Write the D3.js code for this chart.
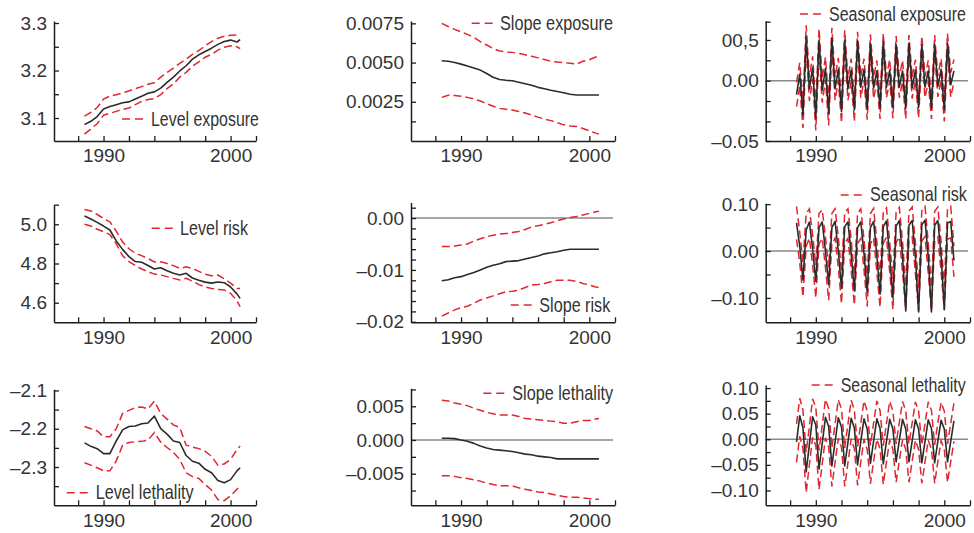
<!DOCTYPE html>
<html>
<head>
<meta charset="utf-8">
<script src="https://cdn.jsdelivr.net/npm/d3@7"></script>
<style>
  html, body { margin: 0; padding: 0; background: #fff; }
  svg { display: block; }
</style>
</head>
<body>
<svg id="chart" width="974" height="533"></svg>
<script>
// time axes: half-yearly for level/slope, quarterly for seasonal
const yearsHalf = [1988.5, 1989, 1989.5, 1990, 1990.5, 1991, 1991.5, 1992, 1992.5, 1993, 1993.5, 1994, 1994.5,
  1995, 1995.5, 1996, 1996.5, 1997, 1997.5, 1998, 1998.5, 1999, 1999.5, 2000, 2000.5, 2000.75];
const yearsQtr = [1988.5, 1988.75,
  1989, 1989.25, 1989.5, 1989.75, 1990, 1990.25, 1990.5, 1990.75, 1991, 1991.25, 1991.5, 1991.75,
  1992, 1992.25, 1992.5, 1992.75, 1993, 1993.25, 1993.5, 1993.75, 1994, 1994.25, 1994.5, 1994.75,
  1995, 1995.25, 1995.5, 1995.75, 1996, 1996.25, 1996.5, 1996.75, 1997, 1997.25, 1997.5, 1997.75,
  1998, 1998.25, 1998.5, 1998.75, 1999, 1999.25, 1999.5, 1999.75, 2000, 2000.25, 2000.5, 2000.75];

const xTicks = [1988, 1990, 1992, 1994, 1996, 1998, 2000, 2002];
const xTickLabels = ["", "1990", "", "", "", "", "2000", ""];

// Level exposure
const levelExpMid = [3.086, 3.093, 3.103, 3.119, 3.124, 3.128, 3.132, 3.134, 3.140, 3.146, 3.152, 3.155, 3.163,
  3.175, 3.186, 3.199, 3.210, 3.224, 3.233, 3.240, 3.247, 3.255, 3.261, 3.264, 3.260, 3.265];
const levelExpUp = [3.104, 3.112, 3.122, 3.140, 3.146, 3.149, 3.153, 3.157, 3.162, 3.166, 3.171, 3.174, 3.186,
  3.196, 3.205, 3.215, 3.224, 3.234, 3.242, 3.252, 3.261, 3.268, 3.272, 3.274, 3.275, 3.278];
const levelExpLo = [3.066, 3.077, 3.088, 3.106, 3.110, 3.114, 3.118, 3.121, 3.128, 3.135, 3.139, 3.141, 3.149,
  3.162, 3.172, 3.186, 3.196, 3.209, 3.218, 3.228, 3.234, 3.243, 3.249, 3.252, 3.250, 3.246];

// Slope exposure
const slopeExpMid = [0.00512, 0.00508, 0.00500, 0.00490, 0.00478, 0.00466, 0.00452, 0.00430, 0.00406, 0.00392,
  0.00387, 0.00384, 0.00375, 0.00365, 0.00355, 0.00342, 0.00333, 0.00323, 0.00316, 0.00308, 0.00298, 0.00293,
  0.00293, 0.00293, 0.00293, 0.00293];
const slopeExpUp = [0.00750, 0.00730, 0.00712, 0.00695, 0.00680, 0.00660, 0.00633, 0.00612, 0.00590, 0.00574,
  0.00567, 0.00565, 0.00558, 0.00550, 0.00540, 0.00530, 0.00520, 0.00508, 0.00503, 0.00500, 0.00495, 0.00490,
  0.00508, 0.00518, 0.00535, 0.00541];
const slopeExpLo = [0.00278, 0.00292, 0.00290, 0.00285, 0.00278, 0.00268, 0.00255, 0.00238, 0.00222, 0.00208,
  0.00202, 0.00197, 0.00188, 0.00178, 0.00165, 0.00152, 0.00140, 0.00130, 0.00117, 0.00103, 0.00096, 0.00092,
  0.00080, 0.00065, 0.00050, 0.00044];

// Seasonal exposure
const seasExpMid = [-0.017, 0.008,
  -0.042, 0.054, -0.010, 0.016, -0.046, 0.050, -0.012, 0.015, -0.040, 0.052, -0.010, 0.014,
  -0.038, 0.050, -0.010, 0.013, -0.036, 0.049, -0.008, 0.014, -0.035, 0.046, -0.009, 0.012,
  -0.034, 0.048, -0.008, 0.013, -0.033, 0.044, -0.008, 0.012, -0.034, 0.046, -0.009, 0.013,
  -0.033, 0.044, -0.008, 0.012, -0.034, 0.045, -0.007, 0.014, -0.036, 0.046, -0.005, 0.012];
const seasExpUp = [-0.002, 0.022,
  -0.025, 0.068, 0.004, 0.030, -0.030, 0.064, 0.003, 0.029, -0.025, 0.065, 0.004, 0.028,
  -0.024, 0.062, 0.003, 0.027, -0.022, 0.060, 0.005, 0.027, -0.022, 0.057, 0.004, 0.025,
  -0.021, 0.058, 0.005, 0.026, -0.021, 0.055, 0.005, 0.025, -0.022, 0.056, 0.004, 0.026,
  -0.021, 0.055, 0.005, 0.025, -0.022, 0.056, 0.006, 0.027, -0.024, 0.058, 0.010, 0.026];
const seasExpLo = [-0.032, -0.006,
  -0.058, 0.040, -0.025, 0.002, -0.061, 0.036, -0.027, 0.001, -0.055, 0.038, -0.024, 0.000,
  -0.052, 0.037, -0.024, -0.001, -0.050, 0.036, -0.021, 0.001, -0.048, 0.034, -0.022, -0.001,
  -0.047, 0.036, -0.021, 0.000, -0.046, 0.032, -0.021, -0.001, -0.047, 0.034, -0.022, 0.000,
  -0.046, 0.032, -0.021, -0.001, -0.047, 0.033, -0.020, 0.001, -0.050, 0.034, -0.020, -0.002];

// Level risk
const levelRiskMid = [5.042, 5.027, 5.010, 4.991, 4.971, 4.915, 4.872, 4.835, 4.810, 4.806, 4.790, 4.772, 4.778,
  4.763, 4.750, 4.741, 4.750, 4.726, 4.715, 4.705, 4.700, 4.706, 4.702, 4.680, 4.645, 4.622];
const levelRiskUp = [5.076, 5.068, 5.050, 5.030, 5.012, 4.965, 4.910, 4.875, 4.852, 4.840, 4.825, 4.808, 4.809,
  4.800, 4.789, 4.775, 4.783, 4.775, 4.760, 4.745, 4.737, 4.741, 4.722, 4.700, 4.673, 4.673];
const levelRiskLo = [5.000, 4.991, 4.975, 4.962, 4.948, 4.900, 4.840, 4.810, 4.790, 4.772, 4.758, 4.746, 4.741,
  4.733, 4.724, 4.716, 4.724, 4.710, 4.692, 4.680, 4.673, 4.668, 4.665, 4.648, 4.610, 4.580];

// Slope risk
const slopeRiskMid = [-0.0121, -0.0119, -0.0115, -0.0113, -0.0109, -0.0105, -0.0100, -0.0095, -0.0091, -0.0088,
  -0.0084, -0.0083, -0.0082, -0.0079, -0.0076, -0.0073, -0.0069, -0.0067, -0.0065, -0.0062, -0.0060, -0.0060,
  -0.0060, -0.0060, -0.0060, -0.0060];
const slopeRiskUp = [-0.0055, -0.0055, -0.0054, -0.0052, -0.0050, -0.0044, -0.0040, -0.0036, -0.0033, -0.0031,
  -0.0030, -0.0028, -0.0026, -0.0022, -0.0017, -0.0015, -0.0012, -0.0009, -0.0005, -0.0002, 0.0001, 0.0003,
  0.0006, 0.0009, 0.0012, 0.0013];
const slopeRiskLo = [-0.0189, -0.0183, -0.0177, -0.0173, -0.0170, -0.0164, -0.0158, -0.0154, -0.0150, -0.0146,
  -0.0142, -0.0141, -0.0139, -0.0134, -0.0129, -0.0128, -0.0126, -0.0123, -0.0120, -0.0120, -0.0120, -0.0122,
  -0.0126, -0.0129, -0.0133, -0.0134];

// Seasonal risk
const seasRiskMid = [0.060, 0.010,
  -0.062, 0.045, 0.062, 0.005, -0.065, 0.050, 0.062, 0.000, -0.072, 0.050, 0.063, 0.000,
  -0.080, 0.052, 0.062, -0.005, -0.085, 0.050, 0.062, -0.005, -0.088, 0.050, 0.063, -0.010,
  -0.092, 0.052, 0.064, -0.010, -0.100, 0.053, 0.065, -0.010, -0.128, 0.055, 0.065, -0.012,
  -0.130, 0.056, 0.066, -0.012, -0.130, 0.055, 0.065, -0.010, -0.125, 0.060, 0.063, -0.020];
const seasRiskUp = [0.095, 0.040,
  -0.025, 0.080, 0.090, 0.035, -0.030, 0.080, 0.088, 0.030, -0.035, 0.080, 0.090, 0.030,
  -0.045, 0.082, 0.090, 0.025, -0.050, 0.080, 0.090, 0.025, -0.052, 0.080, 0.091, 0.020,
  -0.055, 0.082, 0.092, 0.020, -0.060, 0.083, 0.093, 0.020, -0.075, 0.085, 0.094, 0.018,
  -0.078, 0.086, 0.095, 0.018, -0.078, 0.085, 0.094, 0.020, -0.075, 0.090, 0.095, 0.010];
const seasRiskLo = [0.025, -0.025,
  -0.098, 0.010, 0.027, -0.030, -0.100, 0.015, 0.027, -0.035, -0.105, 0.015, 0.028, -0.035,
  -0.112, 0.017, 0.027, -0.040, -0.115, 0.015, 0.027, -0.040, -0.118, 0.015, 0.028, -0.045,
  -0.120, 0.017, 0.029, -0.045, -0.125, 0.018, 0.030, -0.045, -0.125, 0.020, 0.030, -0.047,
  -0.128, 0.021, 0.031, -0.047, -0.128, 0.020, 0.030, -0.045, -0.125, 0.025, 0.028, -0.055];

// Level lethality
const levelLethMid = [-2.237, -2.246, -2.252, -2.265, -2.265, -2.232, -2.203, -2.194, -2.193, -2.187, -2.185,
  -2.167, -2.200, -2.214, -2.232, -2.236, -2.270, -2.285, -2.290, -2.306, -2.315, -2.335, -2.341, -2.333,
  -2.310, -2.302];
const levelLethUp = [-2.194, -2.200, -2.206, -2.221, -2.221, -2.200, -2.160, -2.152, -2.145, -2.143, -2.148,
  -2.128, -2.160, -2.175, -2.190, -2.197, -2.243, -2.248, -2.252, -2.259, -2.272, -2.295, -2.292, -2.280,
  -2.255, -2.245];
const levelLethLo = [-2.289, -2.295, -2.302, -2.310, -2.310, -2.284, -2.243, -2.236, -2.234, -2.233, -2.230,
  -2.210, -2.235, -2.249, -2.262, -2.280, -2.315, -2.325, -2.330, -2.346, -2.360, -2.385, -2.388, -2.375,
  -2.358, -2.350];

// Slope lethality
const slopeLethMid = [0.00025, 0.00025, 0.0002, 0.0000, -0.0002, -0.0005, -0.0009, -0.0012, -0.0014, -0.0015,
  -0.0016, -0.0017, -0.0019, -0.0021, -0.0022, -0.0024, -0.0025, -0.0026, -0.0028, -0.0028, -0.0028, -0.0028,
  -0.0028, -0.0028, -0.0028, -0.0028];
const slopeLethUp = [0.0059, 0.0058, 0.0055, 0.0053, 0.0051, 0.0047, 0.0044, 0.0041, 0.0039, 0.0037, 0.0037,
  0.0037, 0.0035, 0.0032, 0.0031, 0.0030, 0.0029, 0.0028, 0.0027, 0.0025, 0.0025, 0.0027, 0.0029, 0.0029,
  0.0031, 0.0032];
const slopeLethLo = [-0.0053, -0.0053, -0.0054, -0.0056, -0.0057, -0.0059, -0.0061, -0.0064, -0.0066, -0.0068,
  -0.0068, -0.0068, -0.0071, -0.0073, -0.0075, -0.0077, -0.0078, -0.0080, -0.0082, -0.0084, -0.0085, -0.0085,
  -0.0086, -0.0087, -0.0088, -0.0088];

// Seasonal lethality
const seasLethMid = [-0.005, 0.046,
  0.022, -0.064, -0.010, 0.044, 0.028, -0.058, -0.008, 0.043, 0.025, -0.052, -0.005, 0.042,
  0.024, -0.052, -0.006, 0.041, 0.022, -0.050, -0.004, 0.040, 0.020, -0.047, -0.003, 0.040,
  0.021, -0.048, -0.004, 0.039, 0.020, -0.044, -0.002, 0.039, 0.020, -0.044, -0.003, 0.038,
  0.020, -0.046, -0.004, 0.038, 0.021, -0.046, -0.003, 0.037, 0.020, -0.044, -0.004, 0.036];
const seasLethUp = [0.030, 0.080,
  0.057, -0.025, 0.025, 0.079, 0.062, -0.022, 0.027, 0.078, 0.060, -0.017, 0.030, 0.077,
  0.059, -0.017, 0.029, 0.076, 0.057, -0.015, 0.031, 0.075, 0.055, -0.012, 0.032, 0.075,
  0.056, -0.013, 0.031, 0.074, 0.055, -0.009, 0.033, 0.074, 0.055, -0.009, 0.032, 0.073,
  0.055, -0.011, 0.031, 0.073, 0.056, -0.011, 0.032, 0.072, 0.055, -0.009, 0.031, 0.071];
const seasLethLo = [-0.045, 0.006,
  -0.018, -0.104, -0.050, 0.004, -0.012, -0.098, -0.048, 0.003, -0.015, -0.092, -0.045, 0.002,
  -0.016, -0.092, -0.046, 0.001, -0.018, -0.090, -0.044, 0.000, -0.020, -0.087, -0.043, 0.000,
  -0.019, -0.088, -0.044, -0.001, -0.020, -0.084, -0.042, -0.001, -0.020, -0.084, -0.043, -0.002,
  -0.020, -0.086, -0.044, -0.002, -0.019, -0.086, -0.043, -0.003, -0.020, -0.084, -0.044, -0.004];

// tick positions and labels per panel
const levelExpTicks = [3.1, 3.15, 3.2, 3.25, 3.3];
const levelExpLabels = ["3.1", "", "3.2", "", "3.3"];
const slopeExpTicks = [0.00125, 0.0025, 0.00375, 0.005, 0.00625, 0.0075];
const slopeExpLabels = ["", "0.0025", "", "0.0050", "", "0.0075"];
const seasExpTicks = [0.0725, 0.05, 0.025, 0, -0.025, -0.05, -0.0741];
const seasExpLabels = ["", "00,5", "", "0.00", "", "", "\u20130.05"];
const levelRiskTicks = [5.1, 5.0, 4.9, 4.8, 4.7, 4.6];
const levelRiskLabels = ["", "5.0", "", "4.8", "", "4.6"];
const slopeRiskTicks = [0.002, 0, -0.002, -0.004, -0.006, -0.008, -0.01, -0.012, -0.014, -0.016, -0.018, -0.02];
const slopeRiskLabels = ["", "0.00", "", "", "", "", "\u20130.01", "", "", "", "", "\u20130.02"];
const seasRiskTicks = [0.1, 0.05, 0, -0.05, -0.1];
const seasRiskLabels = ["0.10", "", "0.00", "", "\u20130.10"];
const levelLethTicks = [-2.1, -2.15, -2.2, -2.25, -2.3, -2.35];
const levelLethLabels = ["\u20132.1", "", "\u20132.2", "", "\u20132.3", ""];
const slopeLethTicks = [0.0075, 0.005, 0.0025, 0, -0.0025, -0.005, -0.0075];
const slopeLethLabels = ["", "0.005", "", "0.000", "", "\u20130.005", ""];
const seasLethTicks = [0.1, 0.075, 0.05, 0.025, 0, -0.025, -0.05, -0.075, -0.1];
const seasLethLabels = ["0.10", "", "0.05", "", "0.00", "", "\u20130.05", "", "\u20130.10"];

// layout
const W = 974, H = 533;
const COLS = [[54, 256], [411, 615], [765.7, 970]];
const X_DOMAIN = [1986.1, 2002];
const RED = "#e0262f", INK = "#2b2b2b", AXIS = "#1c1c1c", GREY = "#8a8a8a", TXT = "#333333";
const FONT = "Arial, 'Liberation Sans', Helvetica, sans-serif";

// legend: [sample x, sample y, text x, text baseline, text width]
const panels = [
  { col: 0, yDom: [3.0516, 3.3042], yPix: [141, 21], years: yearsHalf,
    mid: levelExpMid, up: levelExpUp, lo: levelExpLo, ticks: levelExpTicks, labels: levelExpLabels,
    name: "Level exposure", leg: [122, 119, 151, 126, 108], zero: false },
  { col: 1, yDom: [0, 0.00765], yPix: [141, 21], years: yearsHalf,
    mid: slopeExpMid, up: slopeExpUp, lo: slopeExpLo, ticks: slopeExpTicks, labels: slopeExpLabels,
    name: "Slope exposure", leg: [471.7, 23.3, 500, 29.5, 113], zero: false },
  { col: 2, yDom: [-0.0741, 0.0737], yPix: [141, 20.7], years: yearsQtr,
    mid: seasExpMid, up: seasExpUp, lo: seasExpLo, ticks: seasExpTicks, labels: seasExpLabels,
    name: "Seasonal exposure", leg: [800, 14, 829, 20.5, 137], zero: true },
  { col: 0, yDom: [4.5, 5.1], yPix: [322.3, 204.7], years: yearsHalf,
    mid: levelRiskMid, up: levelRiskUp, lo: levelRiskLo, ticks: levelRiskTicks, labels: levelRiskLabels,
    name: "Level risk", leg: [151.7, 228.3, 180, 234.5, 68], zero: false },
  { col: 1, yDom: [-0.0201, 0.003], yPix: [322.3, 202.5], years: yearsHalf,
    mid: slopeRiskMid, up: slopeRiskUp, lo: slopeRiskLo, ticks: slopeRiskTicks, labels: slopeRiskLabels,
    name: "Slope risk", leg: [510.7, 305, 539.3, 311.5, 71], zero: true },
  { col: 2, yDom: [-0.152, 0.102], yPix: [322.3, 203.2], years: yearsQtr,
    mid: seasRiskMid, up: seasRiskUp, lo: seasRiskLo, ticks: seasRiskTicks, labels: seasRiskLabels,
    name: "Seasonal risk", leg: [840.7, 195, 870, 201, 97], zero: true },
  { col: 0, yDom: [-2.4, -2.097], yPix: [505.3, 389.3], years: yearsHalf,
    mid: levelLethMid, up: levelLethUp, lo: levelLethLo, ticks: levelLethTicks, labels: levelLethLabels,
    name: "Level lethality", leg: [66.7, 492.7, 95.7, 498.5, 98], zero: false },
  { col: 1, yDom: [-0.00969, 0.00767], yPix: [505.3, 388.3], years: yearsHalf,
    mid: slopeLethMid, up: slopeLethUp, lo: slopeLethLo, ticks: slopeLethTicks, labels: slopeLethLabels,
    name: "Slope lethality", leg: [483.3, 393.3, 512.3, 399.5, 101], zero: true },
  { col: 2, yDom: [-0.129, 0.106], yPix: [505.3, 385], years: yearsQtr,
    mid: seasLethMid, up: seasLethUp, lo: seasLethLo, ticks: seasLethTicks, labels: seasLethLabels,
    name: "Seasonal lethality", leg: [811.7, 385, 840.7, 391.5, 125], zero: true },
];

const svg = d3.select("#chart").attr("viewBox", `0 0 ${W} ${H}`);
svg.append("rect").attr("width", W).attr("height", H).attr("fill", "#fff");

const styleAxis = g => {
  g.attr("font-family", null).attr("font-size", null);
  g.select(".domain").attr("stroke", AXIS).attr("stroke-width", 1.5);
  g.selectAll(".tick line").attr("stroke", AXIS).attr("stroke-width", 1.3);
  g.selectAll(".tick text").attr("fill", TXT)
    .attr("font-family", FONT).attr("font-size", 19);
};

panels.forEach(p => {
  const [x0, x1] = COLS[p.col];
  const x = d3.scaleLinear().domain(X_DOMAIN).range([x0, x1]);
  const y = d3.scaleLinear().domain(p.yDom).range(p.yPix);
  const g = svg.append("g");

  // zero reference line
  if (p.zero) {
    g.append("line")
      .attr("x1", x0).attr("x2", x1 - 2)
      .attr("y1", y(0)).attr("y2", y(0))
      .attr("stroke", GREY).attr("stroke-width", 1.5);
  }

  const line = d3.line().x((d, i) => x(p.years[i])).y(d => y(d));
  [p.up, p.lo].forEach(s => {
    g.append("path").attr("d", line(s))
      .attr("fill", "none").attr("stroke", RED)
      .attr("stroke-width", 1.5).attr("stroke-dasharray", "8,4");
  });
  g.append("path").attr("d", line(p.mid))
    .attr("fill", "none").attr("stroke", INK)
    .attr("stroke-width", 1.6).attr("stroke-linejoin", "round");

  // axes: ticks point inward
  const xb = p.yPix[0];
  g.append("g").attr("transform", `translate(0,${xb})`)
    .call(d3.axisBottom(x).tickValues(xTicks)
      .tickFormat((d, i) => xTickLabels[i])
      .tickSizeInner(-5).tickSizeOuter(0).tickPadding(8))
    .call(styleAxis);
  g.append("g").attr("transform", `translate(${x0},0)`)
    .call(d3.axisLeft(y).tickValues(p.ticks)
      .tickFormat((d, i) => p.labels[i])
      .tickSizeInner(-5).tickSizeOuter(0).tickPadding(7))
    .call(styleAxis);

  // legend: narrow lettering, squeezed horizontally to the reference width
  const [lx, ly, tx, tb, tw] = p.leg;
  g.append("line")
    .attr("x1", lx).attr("x2", lx + 21).attr("y1", ly).attr("y2", ly)
    .attr("stroke", RED).attr("stroke-width", 1.5).attr("stroke-dasharray", "8,5");
  const t = g.append("text")
    .attr("fill", TXT)
    .attr("font-family", FONT).attr("font-size", 20)
    .text(p.name);
  const natural = t.node().getComputedTextLength() || tw;
  t.attr("transform", `translate(${tx},${tb}) scale(${tw / natural},1)`);
});
</script>
</body>
</html>
